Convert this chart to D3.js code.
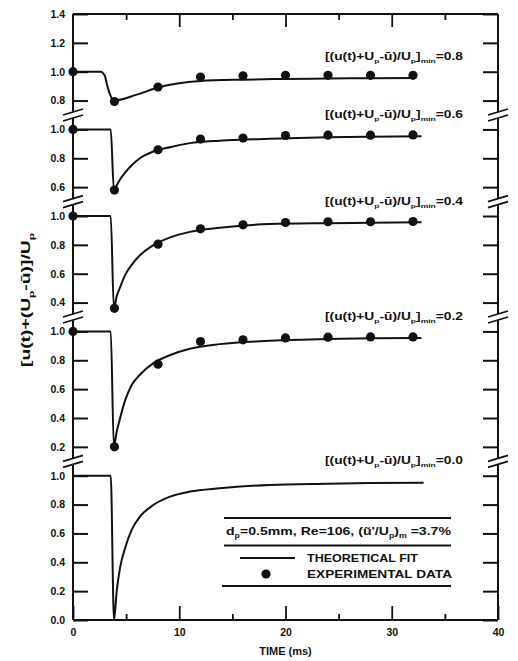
<!DOCTYPE html>
<html>
<head>
<meta charset="utf-8">
<script src="https://cdn.jsdelivr.net/npm/d3@7"></script>
<style>
  html, body { margin: 0; padding: 0; background: #fff; }
  svg { display: block; }
  text { font-family: "Liberation Sans", Arial, sans-serif; font-weight: bold; fill: #111; }
</style>
</head>
<body>
<svg id="chart" width="518" height="661"></svg>
<script>
// ---------- data ----------
const panelMins = [0.8, 0.6, 0.4, 0.2, 0.0];           // top to bottom
const panelTicks = [
  [0.8, 1.0, 1.2, 1.4],
  [0.6, 0.8, 1.0],
  [0.4, 0.6, 0.8, 1.0],
  [0.2, 0.4, 0.6, 0.8, 1.0],
  [0.0, 0.2, 0.4, 0.6, 0.8, 1.0]
];
const xTicksMajor = [0, 10, 20, 30, 40];
const xTicksMinor = [5, 15, 25, 35];

// theoretical fit curves
const fitTime1 = [0, 2.6, 3.0, 3.2, 3.45, 3.8, 6.0, 8.0, 12.0, 16.0, 20.0, 24.0, 28.0, 32.3];
const fitValue1 = [1.0, 1.0, 0.97, 0.91, 0.85, 0.80, 0.841, 0.89, 0.935, 0.945, 0.95, 0.953, 0.955, 0.957];

const fitTime = [0, 3.55, 3.85, 4.1, 4.4, 4.9, 5.5, 6.3, 7.5, 9.1, 11.0, 13.8, 18.5, 24.0, 28.0, 32.8];
const fitValue2 = [1.0, 1.0, 0.58, 0.61, 0.65, 0.70, 0.75, 0.80, 0.845, 0.877, 0.905, 0.922, 0.935, 0.945, 0.95, 0.953];
const fitValue3 = [1.0, 1.0, 0.36, 0.44, 0.50, 0.59, 0.66, 0.728, 0.795, 0.85, 0.89, 0.918, 0.944, 0.95, 0.953, 0.956];
const fitValue4 = [1.0, 1.0, 0.20, 0.30, 0.39, 0.52, 0.625, 0.70, 0.777, 0.835, 0.88, 0.912, 0.935, 0.948, 0.952, 0.955];
const fitTime5 = [0, 3.55, 3.86, 4.11, 4.42, 4.9, 5.52, 6.3, 7.56, 9.13, 11.0, 13.8, 18.5, 24.0, 28.0, 33.0];
const fitValue5 = [1.0, 1.0, 0.0, 0.196, 0.359, 0.497, 0.624, 0.716, 0.797, 0.855, 0.89, 0.913, 0.936, 0.945, 0.95, 0.952];

// experimental data
const dataTime = [0, 3.9, 8, 12, 16, 20, 24, 28, 32];
const dataValue1 = [1.0, 0.793, 0.894, 0.963, 0.972, 0.975, 0.975, 0.975, 0.975];
const dataValue2 = [1.0, 0.58, 0.859, 0.933, 0.94, 0.958, 0.96, 0.96, 0.962];
const dataValue3 = [1.0, 0.36, 0.805, 0.911, 0.939, 0.955, 0.96, 0.96, 0.962];
const dataValue4 = [1.0, 0.20, 0.773, 0.93, 0.942, 0.955, 0.96, 0.962, 0.962];

const fits = [
  [fitTime1, fitValue1],
  [fitTime, fitValue2],
  [fitTime, fitValue3],
  [fitTime, fitValue4],
  [fitTime5, fitValue5]
];
const dataSets = [dataValue1, dataValue2, dataValue3, dataValue4, null];

// ---------- layout ----------
const svg = d3.select("#chart");
const L = 73, R = 498, T = 14, B = 620;
const x = d3.scaleLinear().domain([0, 40]).range([L, R]);

// build slot positions: bottom panel first
const nSlots = panelTicks.reduce((s, t) => s + t.length, 0) - 1; // 21
const slot = d3.scaleLinear().domain([0, nSlots]).range([B, T]);
const panelScales = new Array(panelTicks.length);
const breakSlots = [];
let start = 0;
for (let i = panelTicks.length - 1; i >= 0; i--) {
  const tk = panelTicks[i];
  const n = tk.length;
  panelScales[i] = d3.scaleLinear().domain([tk[0], tk[n - 1]]).range([slot(start), slot(start + n - 1)]);
  if (start > 0) breakSlots.push(start - 0.5);
  start += n;
}

const g = svg.append("g");

// frame lines
g.append("line").attr("x1", L).attr("x2", L).attr("y1", T).attr("y2", B).attr("stroke", "#111").attr("stroke-width", 2);
g.append("line").attr("x1", R).attr("x2", R).attr("y1", T).attr("y2", B).attr("stroke", "#111").attr("stroke-width", 2);
g.append("line").attr("x1", L).attr("x2", R).attr("y1", T).attr("y2", T).attr("stroke", "#111").attr("stroke-width", 2);
g.append("line").attr("x1", L).attr("x2", R).attr("y1", B).attr("y2", B).attr("stroke", "#111").attr("stroke-width", 2);

// y axes per panel
panelTicks.forEach((tk, i) => {
  const ys = panelScales[i];
  const axL = d3.axisLeft(ys).tickValues(tk).tickFormat(d3.format(".1f"))
    .tickSizeInner(-15).tickSizeOuter(0).tickPadding(8);
  const gl = g.append("g").attr("transform", `translate(${L},0)`).call(axL);
  gl.select(".domain").remove();
  gl.selectAll("line").attr("stroke", "#111").attr("stroke-width", 2);
  gl.selectAll("text").attr("font-size", 10.5).attr("font-family", "Liberation Sans, Arial, sans-serif").attr("font-weight", "bold").attr("fill", "#111");

  const axR = d3.axisRight(ys).tickValues(tk).tickFormat("")
    .tickSizeInner(-15).tickSizeOuter(0);
  const gr = g.append("g").attr("transform", `translate(${R},0)`).call(axR);
  gr.select(".domain").remove();
  gr.selectAll("line").attr("stroke", "#111").attr("stroke-width", 2);
});

// x axes
function styleAxis(sel) {
  sel.select(".domain").remove();
  sel.selectAll("line").attr("stroke", "#111").attr("stroke-width", 1.8);
  sel.selectAll("text").attr("font-size", 10.5).attr("font-family", "Liberation Sans, Arial, sans-serif").attr("font-weight", "bold").attr("fill", "#111");
}
g.append("g").attr("transform", `translate(0,${B})`)
  .call(d3.axisBottom(x).tickValues(xTicksMajor).tickFormat(d3.format("d")).tickSizeInner(-14).tickSizeOuter(0).tickPadding(9))
  .call(styleAxis);
g.append("g").attr("transform", `translate(0,${B})`)
  .call(d3.axisBottom(x).tickValues(xTicksMinor).tickFormat("").tickSizeInner(-6).tickSizeOuter(0))
  .call(styleAxis);
g.append("g").attr("transform", `translate(0,${T})`)
  .call(d3.axisTop(x).tickValues(xTicksMajor.slice(1, -1)).tickFormat("").tickSizeInner(-13).tickSizeOuter(0))
  .call(styleAxis);
g.append("g").attr("transform", `translate(0,${T})`)
  .call(d3.axisTop(x).tickValues(xTicksMinor).tickFormat("").tickSizeInner(-6).tickSizeOuter(0))
  .call(styleAxis);

// axis breaks
breakSlots.forEach(s => {
  const yc = slot(s);
  [L, R].forEach(ax => {
    g.append("polygon")
      .attr("points", `${ax - 10},${yc + 6} ${ax + 10},${yc} ${ax + 10},${yc - 6} ${ax - 10},${yc}`)
      .attr("fill", "#fff");
    [-3, 3].forEach(o => {
      g.append("line").attr("x1", ax - 10).attr("y1", yc + 3 + o).attr("x2", ax + 10).attr("y2", yc - 3 + o)
        .attr("stroke", "#111").attr("stroke-width", 1.8);
    });
  });
});

// curves
const line = d3.line().curve(d3.curveMonotoneX);
fits.forEach(([tt, vv], i) => {
  const ys = panelScales[i];
  const pts = tt.map((t, k) => [x(t), ys(vv[k])]);
  g.append("path").attr("d", line(pts)).attr("fill", "none").attr("stroke", "#111").attr("stroke-width", 2);
});

// dots
dataSets.forEach((vv, i) => {
  if (!vv) return;
  const ys = panelScales[i];
  g.selectAll(null).data(dataTime.map((t, k) => [t, vv[k]])).enter().append("circle")
    .attr("cx", d => x(d[0])).attr("cy", d => ys(d[1])).attr("r", 4.6).attr("fill", "#111");
});

// rich text helper: parts = [[text, isSub], ...]
function rich(sel, parts, size) {
  let sub = false;
  parts.forEach(([t, s]) => {
    const ts = sel.append("tspan").text(t);
    if (s && !sub) { ts.attr("dy", size * 0.3).attr("font-size", size * 0.62); sub = true; }
    else if (s && sub) { ts.attr("font-size", size * 0.62); }
    else if (!s && sub) { ts.attr("dy", -size * 0.3); sub = false; }
  });
  return sel;
}

// panel labels
panelMins.forEach((m, i) => {
  const ys = panelScales[i];
  const t = g.append("text").attr("x", 463).attr("y", ys(1.1)).attr("dy", "0.3em")
    .attr("text-anchor", "end").attr("font-size", 10)
    .attr("textLength", 138).attr("lengthAdjust", "spacingAndGlyphs");
  rich(t, [["[(u(t)+U", false], ["p", true], ["-ū)/U", false], ["p", true], ["]", false], ["min", true], ["=" + d3.format(".1f")(m), false]], 10);
});

// y title
const yt = g.append("text").attr("transform", "translate(30,300) rotate(-90)")
  .attr("text-anchor", "middle").attr("font-size", 12)
  .attr("textLength", 134).attr("lengthAdjust", "spacingAndGlyphs");
rich(yt, [["[u(t)+(U", false], ["p", true], ["-ū)]/U", false], ["p", true]], 12);

// x title
g.append("text").attr("x", x(20)).attr("y", 655).attr("text-anchor", "middle")
  .attr("font-size", 11).text("TIME (ms)");

// legend box
const lg = g.append("g");
[[224, 518], [224, 545.5], [222, 586]].forEach(([x1, yy]) => {
  lg.append("line").attr("x1", x1).attr("x2", 451).attr("y1", yy).attr("y2", yy).attr("stroke", "#111").attr("stroke-width", 1.8);
});
const lt = lg.append("text").attr("x", 226).attr("y", 535).attr("font-size", 11)
  .attr("textLength", 225).attr("lengthAdjust", "spacingAndGlyphs");
rich(lt, [["d", false], ["p", true], ["=0.5mm, Re=106, (ũ'/U", false], ["p", true], [")", false], ["m", true], [" =3.7%", false]], 11);
lg.append("line").attr("x1", 240).attr("x2", 295).attr("y1", 558).attr("y2", 558).attr("stroke", "#111").attr("stroke-width", 1.8);
lg.append("text").attr("x", 307).attr("y", 562).attr("font-size", 11)
  .attr("textLength", 111).attr("lengthAdjust", "spacingAndGlyphs").text("THEORETICAL FIT");
lg.append("circle").attr("cx", 266).attr("cy", 574).attr("r", 4.6).attr("fill", "#111");
lg.append("text").attr("x", 307).attr("y", 578).attr("font-size", 11)
  .attr("textLength", 145).attr("lengthAdjust", "spacingAndGlyphs").text("EXPERIMENTAL DATA");
</script>
</body>
</html>
